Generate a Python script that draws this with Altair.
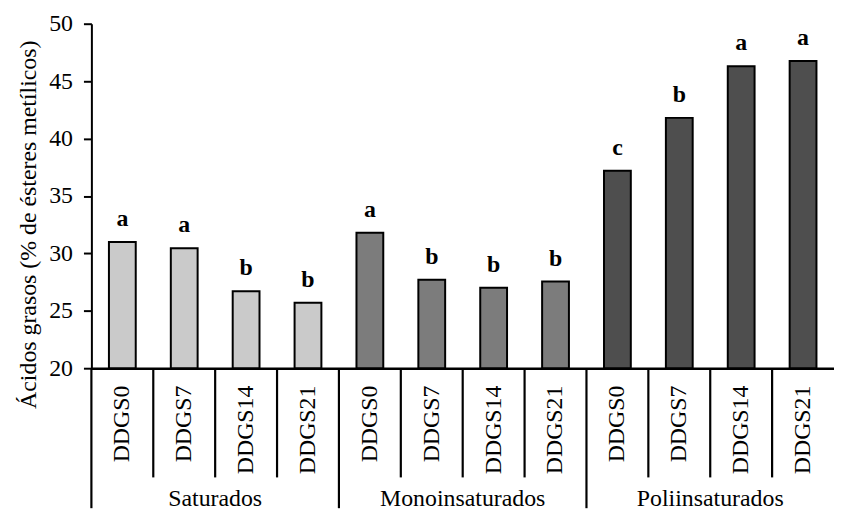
import altair as alt
import pandas as pd

groups = ["Saturados", "Monoinsaturados", "Poliinsaturados"]
treatments = ["DDGS0", "DDGS7", "DDGS14", "DDGS21"]
saturados = [31.0, 30.45, 26.7, 25.7]
monoinsaturados = [31.8, 27.7, 27.0, 27.55]
poliinsaturados = [37.2, 41.8, 46.3, 46.75]
letters_sat = ["a", "a", "b", "b"]
letters_mono = ["a", "b", "b", "b"]
letters_poly = ["c", "b", "a", "a"]
fills = ["#cacaca", "#7c7c7c", "#4e4e4e"]

values = [saturados, monoinsaturados, poliinsaturados]
letters = [letters_sat, letters_mono, letters_poly]

rows = []
for g, vals, lets in zip(groups, values, letters):
    for t, v, l in zip(treatments, vals, lets):
        rows.append({"key": f"{g}-{t}", "group": g, "trat": t, "valor": v, "letra": l, "first": t == treatments[0]})
df = pd.DataFrame(rows)
keys = list(df["key"])

W, H = 748, 347
FONT = "Liberation Serif"

xscale = alt.Scale(domain=keys, paddingInner=0, paddingOuter=0)
yscale = alt.Scale(domain=[20, 50], nice=False, zero=False)

xaxis = alt.Axis(title=None, labelAngle=270, labelAlign="right", labelBaseline="middle",
                 labelExpr="split(datum.value, '-')[1]", labelFont=FONT, labelFontSize=24,
                 labelColor="black", labelPadding=17, ticks=False, tickSize=0,
                 domainColor="black", domainWidth=2.5)
yaxis = alt.Axis(title="Ácidos grasos (% de ésteres metílicos)", values=[20, 25, 30, 35, 40, 45, 50],
                 grid=False, tickSize=8, tickWidth=2, tickColor="black", domainColor="black",
                 domainWidth=2, labelFont=FONT, labelFontSize=24, labelColor="black",
                 labelPadding=11, titleFont=FONT, titleFontSize=24, titleFontWeight="normal",
                 titleColor="black", titleX=-63, titleY=202, titleBaseline="middle",
                 titleAngle=270)

X = alt.X("key:N", scale=xscale, sort=keys, axis=xaxis)
X0 = alt.X("key:N", scale=xscale, sort=keys, axis=xaxis, bandPosition=0)
Y = alt.Y("valor:Q", scale=yscale, axis=yaxis)

base = alt.Chart(df)

bars = base.mark_bar(size=27, stroke="black", strokeWidth=2).encode(
    x=X,
    y=Y,
    y2=alt.datum(20),
    color=alt.Color("group:N", scale=alt.Scale(domain=groups, range=fills), legend=None),
)

labels = base.mark_text(font=FONT, fontSize=24, fontWeight="bold", baseline="alphabetic", dy=-16,
                        color="black").encode(
    x=X,
    y=Y,
    text="letra:N",
)

inner_sep = base.transform_filter("!datum.first").mark_rule(color="black", strokeWidth=2.2).encode(
    x=X0,
    y=alt.value(H),
    y2=alt.value(H + 110),
)

group_sep = base.transform_filter("datum.first").mark_rule(color="black", strokeWidth=2.2).encode(
    x=X0,
    y=alt.value(H),
    y2=alt.value(H + 141),
)

group_df = pd.DataFrame({"group": groups, "key": [f"{g}-{treatments[2]}" for g in groups]})
group_text = alt.Chart(group_df).mark_text(font=FONT, fontSize=24, baseline="alphabetic",
                                          color="black").encode(
    x=X0,
    y=alt.value(H + 139),
    text="group:N",
)

chart = alt.layer(bars, labels, inner_sep, group_sep, group_text).properties(
    width=W, height=H,
    autosize=alt.AutoSizeParams(type="none"),
    padding={"left": 84, "top": 14, "right": 0, "bottom": 141},
).configure(background="white", font=FONT, view=alt.ViewConfig(stroke=None))

chart.save("out.html", embed_options={"renderer": "svg", "actions": False})
